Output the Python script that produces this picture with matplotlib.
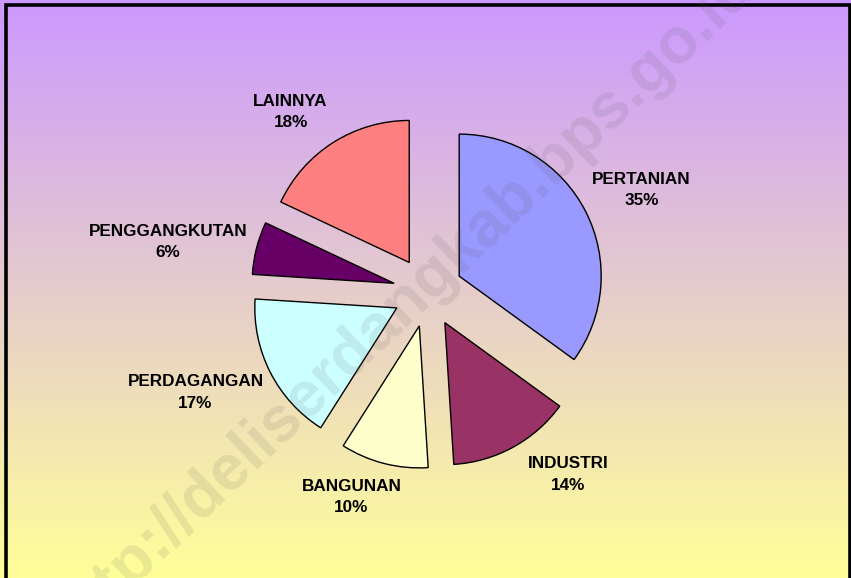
import numpy as np
import matplotlib
matplotlib.use('Agg')
import matplotlib.pyplot as plt
from matplotlib.colors import LinearSegmentedColormap
from matplotlib.patches import Rectangle

# data
sectors = ['PERTANIAN', 'INDUSTRI', 'BANGUNAN', 'PERDAGANGAN',
           'PENGGANGKUTAN', 'LAINNYA']
shares = [35, 14, 10, 17, 6, 18]
colors = ['#9999ff', '#993366', '#ffffcc', '#ccffff', '#660066', '#ff8080']

# layout (pixels from top-left of the 851x578 canvas)
W, H = 851, 578
center_px = (428, 292)
radius_px = 142
label_px = [(641.5, 190), (568.5, 474.5), (351.5, 497), (195.5, 392.5),
            (168, 242), (290.6, 112)]


def main():
    fig = plt.figure(figsize=(W / 100, H / 100), dpi=100)

    # background gradient, purple at top to yellow at bottom
    bg = fig.add_axes([0, 0, 1, 1])
    cmap = LinearSegmentedColormap.from_list('bg', ['#cc99ff', '#ffff99'])
    grad = np.linspace(0, 1, 256).reshape(-1, 1)
    bg.imshow(grad, cmap=cmap, aspect='auto', extent=[0, 1, 0, 1])
    bg.set_xlim(0, 1)
    bg.set_ylim(0, 1)
    bg.axis('off')

    ax = fig.add_axes([0, 0, 1, 1])
    ax.patch.set_alpha(0)
    cx, cy = center_px
    r = radius_px
    ax.axis('off')

    ax.pie(shares, colors=colors, startangle=90, counterclock=False,
           explode=[35 / r] * len(shares), radius=1, center=(0, 0),
           wedgeprops=dict(edgecolor='black', linewidth=1.0))
    ax.set_xlim(-cx / r, (W - cx) / r)
    ax.set_ylim(-(H - cy) / r, cy / r)

    for name, val, (px, py) in zip(sectors, shares, label_px):
        ax.text((px - cx) / r, (cy - py) / r, f'{name}\n{val}%',
                ha='center', va='center', fontsize=12.3, fontweight='bold',
                family='Liberation Sans', linespacing=1.55, color='black')

    # watermark
    fig.text(403 / W, 1 - 303 / H, 'http://deliserdangkab.bps.go.id',
             rotation=43.6, rotation_mode='anchor', ha='center', va='center',
             fontsize=46, fontweight='bold', family='Liberation Sans',
             color='#555555', alpha=0.12)

    # frame
    fig.add_artist(Rectangle((6 / W, -0.05), (849.5 - 6) / W, 1.05 - 5.5 / H,
                             transform=fig.transFigure, fill=False,
                             edgecolor='black', linewidth=2.6))

    fig.savefig('out.png', dpi=100)


if __name__ == '__main__':
    main()
